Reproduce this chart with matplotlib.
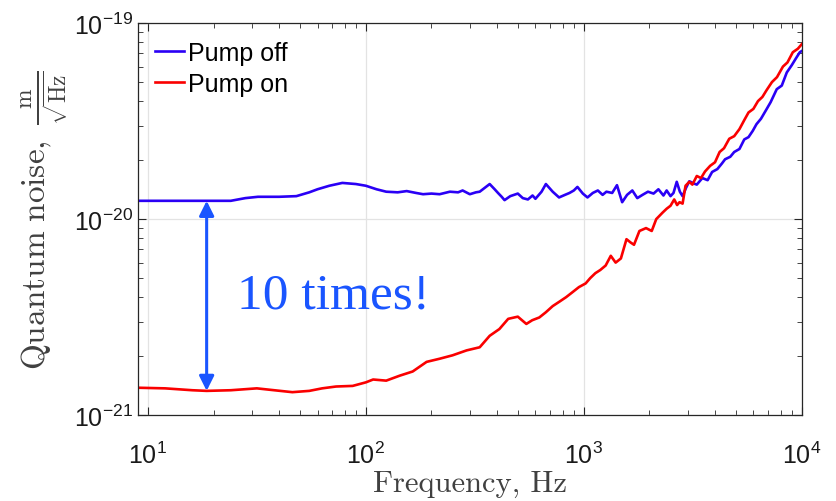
import matplotlib
matplotlib.use("Agg")
import matplotlib.pyplot as plt
from matplotlib.ticker import FixedLocator, LogLocator, NullFormatter

# Pump off (blue), frequency in Hz, noise in units of 1e-20 m/sqrt(Hz)
off_freq = [9, 12, 16, 20, 24, 28, 32, 40, 48, 55, 60, 68, 78, 90, 100, 112, 124,
            140, 154, 170, 183, 200, 218, 243, 265, 278, 300, 320, 333, 350, 370,
            390, 404, 420, 433, 460, 498, 525, 554, 582, 600, 640, 670, 720, 770,
            820, 860, 900, 935, 990, 1040, 1100, 1160, 1220, 1270, 1350, 1420,
            1500, 1580, 1670, 1760, 1860, 1970, 2090, 2200, 2320, 2400, 2500,
            2580, 2670, 2760, 2840, 2950, 3050, 3200, 3300, 3500, 3700, 3880,
            4100, 4300, 4450, 4700, 4900, 5180, 5450, 5700, 5960, 6200, 6500,
            6900, 7200, 7680, 8100, 8540, 9000, 9400, 9800, 10000]
off_noise = [1.24, 1.24, 1.24, 1.24, 1.24, 1.28, 1.30, 1.30, 1.31, 1.37, 1.42,
             1.48, 1.53, 1.51, 1.48, 1.42, 1.38, 1.37, 1.39, 1.36, 1.34, 1.35,
             1.34, 1.38, 1.37, 1.40, 1.34, 1.37, 1.38, 1.44, 1.51, 1.42, 1.36,
             1.30, 1.25, 1.31, 1.35, 1.28, 1.26, 1.32, 1.27, 1.38, 1.51, 1.38,
             1.29, 1.33, 1.36, 1.40, 1.46, 1.35, 1.29, 1.36, 1.40, 1.33, 1.38,
             1.36, 1.49, 1.22, 1.33, 1.40, 1.28, 1.33, 1.38, 1.35, 1.42, 1.32,
             1.40, 1.31, 1.36, 1.55, 1.38, 1.31, 1.45, 1.56, 1.52, 1.50, 1.62,
             1.58, 1.74, 1.80, 1.92, 2.02, 2.08, 2.20, 2.28, 2.55, 2.62, 2.82,
             3.05, 3.25, 3.64, 3.95, 4.60, 4.80, 5.60, 6.10, 6.60, 7.10, 7.20]

# Pump on (red), noise in units of 1e-21 m/sqrt(Hz)
on_freq = [9, 12, 16, 18.6, 24, 31.6, 38, 46, 55, 63, 73, 87, 100, 108, 124, 143,
           164, 190, 218, 250, 290, 333, 370, 410, 450, 498, 545, 580, 625, 670,
           720, 775, 830, 890, 950, 1020, 1070, 1130, 1190, 1260, 1330, 1400,
           1480, 1570, 1640, 1700, 1800, 1930, 2050, 2150, 2300, 2400, 2500,
           2600, 2680, 2750, 2840, 2930, 3050, 3150, 3300, 3450, 3600, 3800,
           4000, 4200, 4400, 4650, 4900, 5180, 5450, 5700, 6000, 6300, 6600,
           6900, 7300, 7700, 8200, 8600, 9100, 9600, 10000]
on_noise = [1.38, 1.37, 1.34, 1.33, 1.34, 1.37, 1.34, 1.31, 1.33, 1.37, 1.40,
            1.41, 1.47, 1.52, 1.50, 1.59, 1.67, 1.87, 1.94, 2.02, 2.14, 2.22,
            2.54, 2.75, 3.10, 3.18, 2.92, 3.05, 3.15, 3.35, 3.60, 3.80, 4.00,
            4.25, 4.50, 4.70, 5.00, 5.30, 5.50, 5.80, 6.50, 6.00, 6.30, 7.90,
            7.60, 7.40, 8.70, 9.00, 8.70, 10.0, 10.8, 11.3, 11.7, 12.6, 11.8,
            12.2, 12.0, 14.8, 15.5, 15.0, 16.6, 16.2, 17.5, 18.7, 19.5, 22.0,
            23.0, 25.7, 26.5, 28.8, 32.0, 35.0, 36.5, 40.0, 42.0, 45.5, 50.0,
            53.0, 60.0, 63.0, 71.0, 74.0, 78.0]

x_major = [10, 100, 1000, 10000]
y_major = [1e-21, 1e-20, 1e-19]

arrow_freq = 18.6
arrow_top = 1.24e-20
arrow_bottom = 1.33e-21
note_text = "10 times!"

plt.rcParams["font.family"] = ["Liberation Sans", "DejaVu Sans"]
plt.rcParams["font.size"] = 18

fig = plt.figure(figsize=(8.36, 5.02), dpi=100)
ax = fig.add_axes([0.165, 0.171, 0.794, 0.781])

ax.plot(off_freq, [v * 1e-20 for v in off_noise], color="#2a00f5", lw=1.9, label="Pump off")
ax.plot(on_freq, [v * 1e-21 for v in on_noise], color="#fa0000", lw=1.9, label="Pump on")

ax.set_xscale("log")
ax.set_yscale("log")
ax.set_xlim(9, 1e4)
ax.set_ylim(1e-21, 1e-19)

ax.xaxis.set_major_locator(FixedLocator(x_major))
ax.yaxis.set_major_locator(FixedLocator(y_major))
ax.xaxis.set_minor_locator(LogLocator(base=10, subs=range(2, 10), numticks=20))
ax.yaxis.set_minor_locator(LogLocator(base=10, subs=range(2, 10), numticks=20))
ax.xaxis.set_minor_formatter(NullFormatter())
ax.yaxis.set_minor_formatter(NullFormatter())

ax.tick_params(which="both", direction="in", top=True, right=True, colors="#262626",
               labelcolor="#1a1a1a")
ax.tick_params(which="major", length=6, width=0.8, labelsize=18)
ax.tick_params(which="minor", length=3.5, width=0.6)
ax.tick_params(axis="x", which="major", pad=19)
for s in ax.spines.values():
    s.set_color("#262626")
    s.set_linewidth(0.9)
ax.grid(True, which="major", color="#e3e3e3", lw=0.9)
ax.set_axisbelow(True)

ax.set_xlabel("Frequency, Hz", family="cmr10", fontsize=22, color="#404040", labelpad=1)
ax.set_ylabel(r"$\mathrm{Quantum\ noise,}\ \frac{\mathrm{m}}{\sqrt{\mathrm{Hz}}}$",
              math_fontfamily="cm", fontsize=24, color="#404040", labelpad=2)

ax.legend(loc="upper left", frameon=False, fontsize=18, handlelength=1.15,
          handletextpad=0.15, labelspacing=0.3, borderaxespad=0.5, borderpad=0.2)

ax.annotate("", xy=(arrow_freq, arrow_bottom), xytext=(arrow_freq, arrow_top),
            arrowprops=dict(arrowstyle="<|-|>", color="#1a55ff", lw=2.2,
                            mutation_scale=22, shrinkA=0, shrinkB=0))
ax.text(25.6, 3.56e-21, note_text, family="Liberation Serif", fontsize=37,
        color="#1a55ff", va="baseline", ha="left")

fig.savefig("out.png", dpi=100, facecolor="white")
